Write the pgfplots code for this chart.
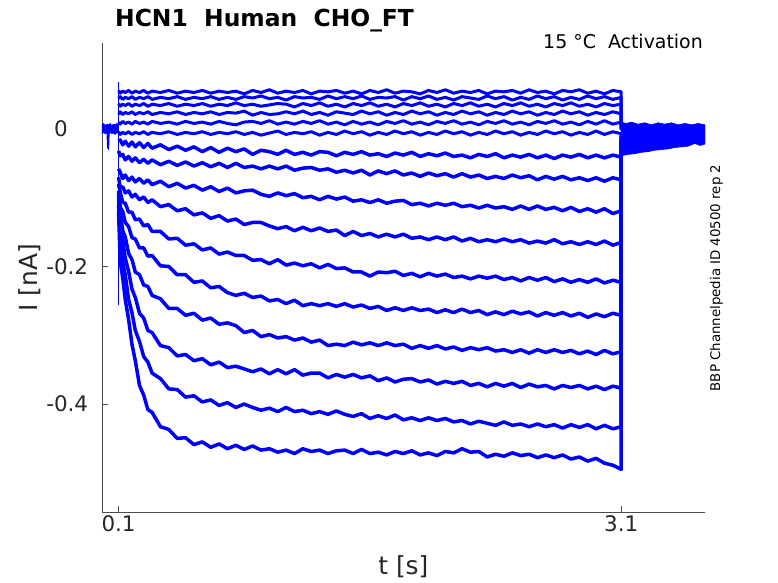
\documentclass[border=0pt]{standalone}
\usepackage{fontspec}
\setmainfont{DejaVu Sans}
\usepackage{pgfplots}
\usepackage{pgfplotstable}
\pgfplotsset{compat=1.18}
\definecolor{axiscol}{gray}{0.3}
\definecolor{txtcol}{gray}{0.15}
\pgfplotstableread{
t a b c d e f g h i j k l m n o p
0.1 0.056 0.044 0.037 0.021 0.010 -0.004 -0.018 -0.032 -0.058 -0.070 -0.080 -0.090 -0.095 -0.100 -0.110 -0.120
0.11 0.052 0.047 0.033 0.025 0.007 -0.008 -0.016 -0.039 -0.063 -0.085 -0.092 -0.114 -0.122 -0.143 -0.157 -0.193
0.125 0.055 0.043 0.036 0.021 0.011 -0.005 -0.023 -0.037 -0.072 -0.084 -0.107 -0.120 -0.148 -0.162 -0.193 -0.217
0.14 0.053 0.046 0.034 0.024 0.008 -0.007 -0.018 -0.045 -0.067 -0.093 -0.108 -0.136 -0.157 -0.188 -0.212 -0.248
0.16 0.056 0.044 0.037 0.022 0.010 -0.004 -0.025 -0.040 -0.075 -0.090 -0.121 -0.142 -0.181 -0.207 -0.248 -0.277
0.18 0.052 0.047 0.033 0.025 0.007 -0.008 -0.019 -0.047 -0.070 -0.099 -0.121 -0.158 -0.190 -0.233 -0.267 -0.313
0.2 0.055 0.043 0.036 0.021 0.011 -0.005 -0.026 -0.042 -0.077 -0.095 -0.132 -0.160 -0.208 -0.245 -0.293 -0.337
0.225 0.053 0.046 0.034 0.024 0.008 -0.007 -0.020 -0.049 -0.072 -0.103 -0.131 -0.173 -0.212 -0.268 -0.309 -0.373
0.25 0.056 0.044 0.037 0.022 0.010 -0.004 -0.027 -0.044 -0.079 -0.099 -0.141 -0.173 -0.227 -0.275 -0.331 -0.387
0.275 0.052 0.047 0.033 0.025 0.007 -0.008 -0.021 -0.050 -0.074 -0.107 -0.139 -0.185 -0.229 -0.293 -0.339 -0.408
0.3 0.055 0.043 0.036 0.021 0.011 -0.005 -0.028 -0.045 -0.081 -0.103 -0.149 -0.184 -0.242 -0.296 -0.355 -0.412
0.35 0.053 0.046 0.034 0.024 0.008 -0.007 -0.023 -0.052 -0.076 -0.113 -0.149 -0.199 -0.247 -0.315 -0.363 -0.433
0.4 0.056 0.044 0.037 0.022 0.010 -0.004 -0.030 -0.047 -0.084 -0.110 -0.160 -0.200 -0.261 -0.318 -0.378 -0.437
0.45 0.052 0.047 0.033 0.025 0.007 -0.008 -0.025 -0.053 -0.079 -0.119 -0.159 -0.212 -0.261 -0.330 -0.379 -0.450
0.5 0.055 0.043 0.036 0.021 0.011 -0.005 -0.031 -0.048 -0.086 -0.116 -0.169 -0.212 -0.271 -0.328 -0.390 -0.449
0.55 0.053 0.046 0.034 0.024 0.008 -0.007 -0.026 -0.054 -0.082 -0.125 -0.167 -0.223 -0.268 -0.337 -0.388 -0.459
0.6 0.056 0.044 0.037 0.022 0.010 -0.004 -0.033 -0.049 -0.089 -0.122 -0.176 -0.221 -0.278 -0.334 -0.397 -0.455
0.65 0.052 0.047 0.033 0.025 0.007 -0.008 -0.027 -0.055 -0.084 -0.130 -0.173 -0.231 -0.275 -0.343 -0.394 -0.463
0.7 0.055 0.043 0.036 0.021 0.011 -0.005 -0.034 -0.050 -0.091 -0.126 -0.182 -0.229 -0.284 -0.339 -0.402 -0.458
0.75 0.053 0.046 0.034 0.024 0.008 -0.007 -0.028 -0.056 -0.086 -0.134 -0.179 -0.238 -0.282 -0.347 -0.398 -0.465
0.8 0.055 0.043 0.038 0.023 0.006 -0.004 -0.033 -0.050 -0.093 -0.131 -0.184 -0.242 -0.286 -0.345 -0.405 -0.460
0.85 0.051 0.047 0.034 0.026 0.010 -0.008 -0.029 -0.056 -0.090 -0.139 -0.184 -0.239 -0.296 -0.349 -0.400 -0.466
0.9 0.056 0.045 0.036 0.020 0.011 -0.005 -0.037 -0.054 -0.089 -0.136 -0.191 -0.245 -0.293 -0.353 -0.405 -0.461
0.95 0.053 0.048 0.033 0.024 0.008 -0.009 -0.031 -0.058 -0.095 -0.136 -0.190 -0.243 -0.302 -0.349 -0.409 -0.467
1.0 0.057 0.044 0.035 0.021 0.012 -0.006 -0.033 -0.054 -0.098 -0.141 -0.196 -0.250 -0.299 -0.356 -0.406 -0.465
1.05 0.052 0.046 0.037 0.022 0.007 -0.003 -0.037 -0.058 -0.093 -0.145 -0.190 -0.248 -0.304 -0.350 -0.411 -0.470
1.1 0.055 0.042 0.036 0.025 0.010 -0.008 -0.031 -0.054 -0.097 -0.142 -0.198 -0.254 -0.302 -0.356 -0.405 -0.467
1.15 0.053 0.047 0.032 0.022 0.007 -0.005 -0.037 -0.060 -0.094 -0.148 -0.195 -0.249 -0.307 -0.350 -0.411 -0.472
1.2 0.056 0.045 0.037 0.026 0.011 -0.007 -0.034 -0.057 -0.100 -0.143 -0.199 -0.257 -0.304 -0.358 -0.409 -0.465
1.25 0.051 0.046 0.034 0.021 0.008 -0.004 -0.038 -0.056 -0.098 -0.148 -0.196 -0.254 -0.310 -0.355 -0.414 -0.469
1.3 0.055 0.043 0.038 0.024 0.012 -0.009 -0.033 -0.060 -0.103 -0.144 -0.202 -0.257 -0.307 -0.355 -0.411 -0.467
1.35 0.054 0.048 0.033 0.020 0.007 -0.005 -0.034 -0.058 -0.098 -0.149 -0.197 -0.254 -0.315 -0.362 -0.415 -0.472
1.4 0.056 0.044 0.036 0.025 0.010 -0.008 -0.039 -0.063 -0.102 -0.147 -0.203 -0.258 -0.313 -0.357 -0.410 -0.468
1.45 0.052 0.047 0.032 0.023 0.006 -0.003 -0.034 -0.060 -0.099 -0.155 -0.202 -0.254 -0.315 -0.361 -0.415 -0.467
1.5 0.055 0.044 0.037 0.021 0.011 -0.007 -0.037 -0.064 -0.105 -0.149 -0.208 -0.259 -0.310 -0.357 -0.418 -0.472
1.55 0.051 0.048 0.034 0.026 0.007 -0.004 -0.033 -0.060 -0.103 -0.155 -0.208 -0.256 -0.314 -0.362 -0.414 -0.466
1.6 0.056 0.043 0.038 0.022 0.010 -0.009 -0.038 -0.067 -0.107 -0.152 -0.214 -0.261 -0.311 -0.359 -0.421 -0.472
1.65 0.053 0.046 0.033 0.025 0.006 -0.005 -0.036 -0.061 -0.103 -0.157 -0.208 -0.258 -0.315 -0.366 -0.417 -0.470
1.7 0.057 0.045 0.036 0.020 0.011 -0.008 -0.040 -0.065 -0.108 -0.153 -0.209 -0.264 -0.311 -0.362 -0.421 -0.474
1.75 0.052 0.047 0.032 0.024 0.008 -0.003 -0.035 -0.061 -0.105 -0.157 -0.207 -0.260 -0.315 -0.368 -0.416 -0.469
1.8 0.055 0.042 0.037 0.021 0.012 -0.007 -0.038 -0.067 -0.104 -0.153 -0.213 -0.264 -0.313 -0.364 -0.423 -0.472
1.85 0.054 0.047 0.034 0.026 0.007 -0.004 -0.034 -0.064 -0.110 -0.159 -0.210 -0.260 -0.319 -0.363 -0.420 -0.468
1.9 0.051 0.044 0.038 0.022 0.010 -0.009 -0.040 -0.069 -0.108 -0.157 -0.215 -0.264 -0.315 -0.368 -0.424 -0.474
1.95 0.056 0.048 0.033 0.025 0.006 -0.005 -0.036 -0.064 -0.112 -0.161 -0.210 -0.262 -0.319 -0.365 -0.420 -0.471
2.0 0.053 0.043 0.036 0.020 0.011 -0.008 -0.039 -0.068 -0.108 -0.157 -0.214 -0.267 -0.315 -0.371 -0.424 -0.475
2.05 0.057 0.046 0.032 0.024 0.008 -0.003 -0.035 -0.065 -0.111 -0.161 -0.211 -0.263 -0.320 -0.367 -0.421 -0.469
2.1 0.052 0.042 0.037 0.021 0.012 -0.007 -0.040 -0.070 -0.108 -0.157 -0.216 -0.267 -0.317 -0.370 -0.426 -0.471
2.15 0.055 0.047 0.034 0.026 0.007 -0.004 -0.038 -0.065 -0.113 -0.163 -0.214 -0.262 -0.322 -0.367 -0.424 -0.465
2.2 0.053 0.045 0.038 0.022 0.010 -0.009 -0.042 -0.070 -0.111 -0.159 -0.218 -0.267 -0.318 -0.373 -0.429 -0.470
2.25 0.056 0.043 0.033 0.025 0.006 -0.005 -0.037 -0.067 -0.115 -0.164 -0.214 -0.264 -0.321 -0.370 -0.425 -0.469
2.3 0.051 0.048 0.036 0.020 0.011 -0.008 -0.040 -0.072 -0.111 -0.161 -0.217 -0.270 -0.318 -0.375 -0.428 -0.477
2.35 0.055 0.044 0.032 0.024 0.008 -0.003 -0.036 -0.069 -0.115 -0.164 -0.214 -0.266 -0.323 -0.370 -0.431 -0.473
2.4 0.054 0.047 0.037 0.021 0.012 -0.007 -0.042 -0.072 -0.113 -0.160 -0.219 -0.270 -0.321 -0.374 -0.426 -0.476
2.45 0.056 0.042 0.034 0.026 0.007 -0.004 -0.038 -0.067 -0.117 -0.164 -0.216 -0.265 -0.325 -0.370 -0.431 -0.471
2.5 0.052 0.046 0.038 0.022 0.010 -0.009 -0.041 -0.071 -0.112 -0.161 -0.221 -0.269 -0.321 -0.376 -0.429 -0.475
2.55 0.057 0.043 0.033 0.025 0.006 -0.005 -0.037 -0.068 -0.117 -0.166 -0.216 -0.266 -0.326 -0.371 -0.433 -0.473
2.6 0.053 0.048 0.036 0.020 0.011 -0.008 -0.042 -0.074 -0.112 -0.163 -0.220 -0.272 -0.321 -0.375 -0.429 -0.478
2.65 0.055 0.044 0.032 0.024 0.008 -0.003 -0.038 -0.069 -0.117 -0.166 -0.216 -0.267 -0.325 -0.373 -0.433 -0.474
2.7 0.051 0.047 0.037 0.021 0.012 -0.007 -0.043 -0.073 -0.114 -0.161 -0.222 -0.271 -0.321 -0.378 -0.430 -0.478
2.75 0.056 0.042 0.034 0.026 0.007 -0.004 -0.038 -0.069 -0.119 -0.167 -0.218 -0.267 -0.325 -0.373 -0.435 -0.474
2.8 0.054 0.046 0.038 0.022 0.010 -0.009 -0.041 -0.074 -0.114 -0.164 -0.223 -0.272 -0.322 -0.376 -0.430 -0.480
2.85 0.057 0.043 0.033 0.025 0.006 -0.005 -0.037 -0.071 -0.120 -0.168 -0.219 -0.268 -0.327 -0.373 -0.434 -0.477
2.9 0.052 0.048 0.036 0.020 0.011 -0.008 -0.042 -0.075 -0.116 -0.164 -0.223 -0.274 -0.323 -0.378 -0.430 -0.483
2.95 0.055 0.044 0.032 0.024 0.007 -0.003 -0.038 -0.071 -0.121 -0.168 -0.218 -0.269 -0.328 -0.374 -0.436 -0.479
3.0 0.051 0.047 0.037 0.021 0.012 -0.008 -0.042 -0.076 -0.116 -0.163 -0.224 -0.273 -0.322 -0.379 -0.431 -0.486
3.05 0.056 0.043 0.034 0.025 0.007 -0.004 -0.038 -0.071 -0.123 -0.169 -0.220 -0.268 -0.327 -0.374 -0.436 -0.489
3.1 0.054 0.046 0.036 0.022 0.010 -0.007 -0.041 -0.074 -0.119 -0.165 -0.223 -0.271 -0.324 -0.377 -0.433 -0.495
3.1 0.006 0.004 0.002 0.000 -0.002 -0.005 -0.008 -0.011 -0.015 -0.019 -0.023 -0.027 -0.030 -0.033 -0.036 -0.038
}\traces
\begin{document}
\begin{tikzpicture}
\useasboundingbox (0,0) rectangle (778bp,583bp);
\begin{axis}[
  at={(101.8bp,71bp)}, anchor=south west,
  scale only axis, width=603.2bp, height=469bp,
  xmin=0, xmax=3.6, ymin=-0.557, ymax=0.125,
  axis lines*=left,
  axis line style={-, draw=axiscol, line width=0.6bp},
  xtick={0.1,3.1}, xticklabels={0.1,3.1},
  ytick={-0.4,-0.2,0}, yticklabels={-0.4,-0.2,\hphantom{-}0},
  scaled y ticks=false,
  tick align=inside, major tick length=6bp,
  tick style={draw=axiscol, line width=0.6bp},
  ticklabel style={font=\fontsize{21.5}{25}\selectfont, text=txtcol},
  yticklabel style={anchor=west, xshift=-59bp},
  xlabel={t [s]}, ylabel={I [nA]},
  label style={font=\fontsize{25}{30}\selectfont, text=txtcol},
  xlabel style={at={(axis description cs:0.5,0)}, anchor=north, yshift=-40bp},
  ylabel style={at={(axis description cs:-0.0953,0.5)}, anchor=south},
]
% pre-pulse baseline band
\addplot[fill=blue, draw=blue, line width=0.6bp] coordinates {
(0,0.006) (0.01,0.008) (0.02,0.005) (0.03,0.007) (0.04,0.006) (0.05,0.008) (0.06,0.005) (0.07,0.007) (0.08,0.006) (0.09,0.008) (0.1,0.006)
(0.1,-0.007) (0.09,-0.005) (0.08,-0.008) (0.07,-0.006) (0.06,-0.007) (0.05,-0.005) (0.04,-0.008) (0.03,-0.006) (0.02,-0.007) (0.01,-0.005) (0,-0.007)};
\addplot[blue, line width=1.6bp] coordinates {(0.033,-0.006) (0.036,-0.027) (0.039,-0.028) (0.042,-0.006)};
% capacitive transient at step onset
\addplot[blue, line width=1.4bp] coordinates {(0.1,0.068) (0.1,-0.256)};
% tail currents after the step
\addplot[fill=blue, draw=blue, line width=0.6bp] coordinates {
(3.1,0.010) (3.13,0.008) (3.16,0.010) (3.2,0.007) (3.24,0.009) (3.28,0.006) (3.32,0.009) (3.36,0.007) (3.4,0.009) (3.44,0.006) (3.48,0.008) (3.52,0.006) (3.56,0.008) (3.6,0.006)
(3.6,-0.022) (3.57,-0.024) (3.54,-0.021) (3.5,-0.025) (3.46,-0.026) (3.42,-0.027) (3.38,-0.029) (3.34,-0.030) (3.3,-0.031) (3.26,-0.033) (3.22,-0.034) (3.18,-0.036) (3.14,-0.037) (3.1,-0.039)};
\pgfplotsinvokeforeach{a,b,c,d,e,f}{
  \addplot[blue, line width=3.0bp, line join=round] table[x=t, y=#1] {\traces};
}
\pgfplotsinvokeforeach{g,h,i,j,k,l,m,n,o,p}{
  \addplot[blue, line width=3.5bp, line join=round] table[x=t, y=#1] {\traces};
}
\end{axis}
\node[anchor=base west, inner sep=0pt, font=\bfseries\fontsize{23.5}{28}\selectfont] at (115bp,556.5bp) {HCN1~~Human~~CHO\_FT};
\node[anchor=base east, inner sep=0pt, font=\fontsize{19}{23}\selectfont] at (703bp,534bp) {15 °C~~Activation};
\node[anchor=base, rotate=90, inner sep=0pt, font=\fontsize{13.4}{16}\selectfont] at (720bp,305bp) {BBP Channelpedia ID 40500 rep 2};
\end{tikzpicture}
\end{document}
